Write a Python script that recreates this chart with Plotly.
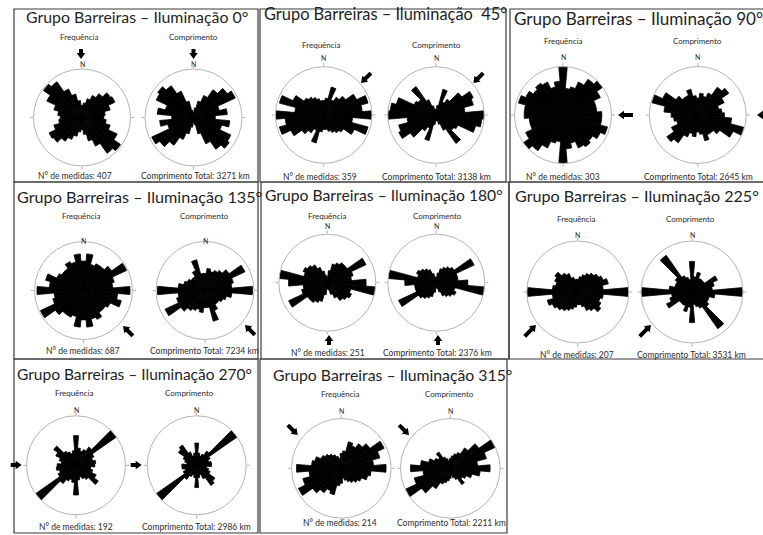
import math
import plotly.graph_objects as go

W, H = 763, 535

# Rose classes: 10° wide, centred on 0°, 10°, ..., 170°. Lineaments are axial,
# so every class is repeated at +180°.
bin_centres = list(range(0, 180, 10))

illumination_az = [0, 45, 90, 135, 180, 225, 270, 315]
titles = [
    "Grupo Barreiras – Iluminação 0°",
    "Grupo Barreiras – Iluminação\u00a0 45°",
    "Grupo Barreiras – Iluminação 90°",
    "Grupo Barreiras – Iluminação 135°",
    "Grupo Barreiras – Iluminação 180°",
    "Grupo Barreiras – Iluminação 225°",
    "Grupo Barreiras – Iluminação 270°",
    "Grupo Barreiras – Iluminação 315°",
]
n_medidas = [407, 359, 303, 687, 251, 207, 192, 214]
comprimento_km = [3271, 3138, 2645, 7234, 2376, 3531, 2986, 2211]

# Class sizes in % of the outer circle (frequency and cumulative length)
freq_000 = [25, 30, 40, 50, 60, 72, 75, 60, 48, 45, 50, 60, 80, 97, 90, 65, 50, 35]
comp_000 = [10, 20, 35, 50, 70, 85, 95, 55, 70, 45, 75, 60, 85, 90, 80, 60, 35, 15]
freq_045 = [30, 35, 60, 35, 45, 55, 75, 95, 80, 100, 60, 95, 70, 50, 45, 40, 35, 30]
comp_045 = [12, 20, 55, 30, 40, 65, 85, 80, 60, 100, 95, 85, 50, 45, 72, 35, 20, 12]
freq_090 = [100, 55, 60, 75, 90, 100, 85, 70, 70, 80, 80, 95, 85, 75, 80, 75, 60, 70]
comp_090 = [35, 45, 40, 50, 70, 78, 60, 45, 50, 55, 70, 98, 80, 55, 45, 45, 55, 40]
freq_135 = [60, 75, 55, 60, 60, 70, 97, 65, 60, 95, 70, 80, 60, 55, 55, 65, 60, 75]
comp_135 = [35, 45, 40, 45, 50, 60, 90, 60, 55, 97, 55, 45, 40, 35, 35, 45, 65, 35]
freq_180 = [12, 25, 40, 45, 50, 50, 88, 55, 50, 80, 100, 50, 55, 50, 45, 35, 25, 15]
comp_180 = [10, 20, 30, 35, 40, 45, 86, 45, 45, 65, 100, 40, 45, 40, 35, 30, 20, 12]
freq_225 = [25, 30, 35, 40, 45, 50, 55, 62, 50, 100, 50, 45, 50, 55, 45, 40, 30, 25]
comp_225 = [60, 30, 40, 30, 30, 30, 55, 45, 40, 100, 45, 35, 35, 40, 88, 35, 30, 25]
freq_270 = [60, 35, 30, 35, 45, 100, 40, 35, 40, 38, 30, 35, 45, 55, 35, 30, 25, 30]
comp_270 = [45, 25, 20, 25, 35, 100, 30, 25, 30, 30, 20, 25, 30, 45, 50, 30, 20, 25]
freq_315 = [30, 35, 55, 50, 60, 70, 95, 80, 65, 90, 60, 55, 45, 40, 35, 30, 25, 20]
comp_315 = [20, 25, 30, 35, 50, 70, 100, 75, 55, 80, 60, 45, 35, 30, 40, 25, 20, 15]

freq_sets = [freq_000, freq_045, freq_090, freq_135, freq_180, freq_225, freq_270, freq_315]
comp_sets = [comp_000, comp_045, comp_090, comp_135, comp_180, comp_225, comp_270, comp_315]

# ---- page geometry (pixels) ----
boxes = [  # x0, y0, x1, y1 of each framed panel
    (14, 9, 258, 182), (260, 9, 506, 182), (510, 9, 765, 182),
    (14, 182, 258, 359), (261, 182, 509, 359), (509, 182, 765, 359),
    (14, 359, 258, 533), (260, 359, 507, 533),
]
title_pos = [(24, 16), (262, 13.5), (512, 18.5), (15, 196.5), (263, 195), (513, 195.5), (15, 374), (271, 374)]
title_size = [15.9, 16.4, 17.1, 16.2, 15.7, 16.1, 15.5, 15.8]
rose_cx = [(82, 193.5), (323.7, 436), (563, 697.8), (83.5, 205), (327.3, 436.3), (577.8, 692), (76, 196.7), (341.3, 450.3)]
rose_cy = [117.5, 115, 115, 290.5, 282.7, 292, 465.3, 468.3]
rose_r = [48.5, 48.3, 48.5, 49, 48.5, 51, 49.5, 49.8]
head_y = [37, 45, 40.7, 216.3, 215.7, 219, 393.3, 394.3]
head_x = [(79, 193), (321.7, 436.7), (563.3, 697.7), (81.7, 204), (327.7, 437.7), (576.7, 690), (74, 189.3), (340, 449.3)]
north_y = [64, 58.3, 56.7, 240.7, 226.3, 235.3, 410, 410.7]
foot_y = [176, 176.7, 176.7, 351.3, 353, 354.7, 526.7, 523.3]
foot_x = [(75, 195), (320, 436.7), (563.3, 698.3), (83.3, 204), (327.7, 437.7), (576.7, 691.7), (76, 196.7), (340, 451.7)]
arrow_tip = [
    ((81, 59), (193.5, 59)), ((361, 83), (473.3, 83)), ((618, 115), (757, 115)),
    ((123, 326), (245, 325)), ((329, 335), (438, 335)), ((536, 325), (651, 325)),
    ((21.7, 465), (141.7, 465)), ((297.7, 435), (409, 435)),
]
arrow_len = [10, 14, 15, 14, 10, 16, 11, 14]

TEXT = "#2b2b2b"
FONT = "Lato"


def fx(x):
    return x / W


def fy(y):
    return 1 - y / H


fig = go.Figure()
annotations = []
shapes = []


def block_arrow(tip, az, length, shaft=4.0, head_w=8.5, head_l=6.0):
    # arrow pointing away from the illumination azimuth (light travels towards az+180)
    d = (-math.sin(math.radians(az)), math.cos(math.radians(az)))
    n = (-d[1], d[0])
    local = [(0, 0), (-head_l, head_w / 2), (-head_l, shaft / 2), (-length, shaft / 2),
             (-length, -shaft / 2), (-head_l, -shaft / 2), (-head_l, -head_w / 2)]
    pts = [(tip[0] + u * d[0] + v * n[0], tip[1] + u * d[1] + v * n[1]) for u, v in local]
    path = "M " + " L ".join(f"{fx(x):.5f},{fy(y):.5f}" for x, y in pts) + " Z"
    return dict(type="path", xref="paper", yref="paper", path=path,
                fillcolor="black", line=dict(width=0), layer="above")


k = 0
for p in range(8):
    x0, y0, x1, y1 = boxes[p]
    shapes.append(dict(type="rect", xref="paper", yref="paper",
                       x0=fx(x0), x1=fx(x1), y0=fy(y1), y1=fy(y0),
                       line=dict(color="#3a3a3a", width=1.2), layer="below"))
    tx, ty = title_pos[p]
    annotations.append(dict(text=titles[p], x=fx(tx), y=fy(ty), xref="paper", yref="paper",
                            xanchor="left", yanchor="middle", showarrow=False,
                            font=dict(family=FONT, size=title_size[p], color="#1e1e1e")))
    cy, r = rose_cy[p], rose_r[p]
    for j, (label, values) in enumerate([("Frequência", freq_sets[p]), ("Comprimento", comp_sets[p])]):
        k += 1
        name = "polar" if k == 1 else f"polar{k}"
        cx = rose_cx[p][j]
        fig.add_trace(go.Barpolar(
            r=values + values,
            theta=bin_centres + [b + 180 for b in bin_centres],
            width=[10] * (2 * len(bin_centres)),
            marker=dict(color="black", line=dict(color="black", width=0.8)),
            subplot=name, showlegend=False, hoverinfo="skip",
        ))
        fig.update_layout({name: dict(
            domain=dict(x=[fx(cx - r), fx(cx + r)], y=[fy(cy + r), fy(cy - r)]),
            bgcolor="rgba(0,0,0,0)",
            radialaxis=dict(visible=False, range=[0, 100]),
            angularaxis=dict(rotation=90, direction="clockwise", showgrid=False,
                             showticklabels=False, tickmode="array", tickvals=[0, 90, 180, 270],
                             ticks="outside", ticklen=3, tickcolor="#b4b4b4", tickwidth=1,
                             linecolor="#b4b4b4", linewidth=1),
        )})
        annotations.append(dict(text=label, x=fx(head_x[p][j]), y=fy(head_y[p]),
                                xref="paper", yref="paper", showarrow=False,
                                xanchor="center", yanchor="middle",
                                font=dict(family=FONT, size=8, color=TEXT)))
        annotations.append(dict(text="N", x=fx(cx), y=fy(north_y[p]),
                                xref="paper", yref="paper", showarrow=False,
                                xanchor="center", yanchor="middle",
                                font=dict(family=FONT, size=7, color=TEXT)))
        shapes.append(block_arrow(arrow_tip[p][j], illumination_az[p], arrow_len[p]))
    annotations.append(dict(text=f"N° de medidas: {n_medidas[p]}", x=fx(foot_x[p][0]), y=fy(foot_y[p]),
                            xref="paper", yref="paper", showarrow=False,
                            xanchor="center", yanchor="middle",
                            font=dict(family=FONT, size=8.5, color=TEXT)))
    annotations.append(dict(text=f"Comprimento Total: {comprimento_km[p]} km", x=fx(foot_x[p][1]),
                            y=fy(foot_y[p]), xref="paper", yref="paper", showarrow=False,
                            xanchor="center", yanchor="middle",
                            font=dict(family=FONT, size=8.5, color=TEXT)))

fig.update_layout(
    width=W, height=H, margin=dict(l=0, r=0, t=0, b=0),
    paper_bgcolor="white", plot_bgcolor="white",
    annotations=annotations, shapes=shapes, showlegend=False,
)

fig.write_html("out.html", config={"displayModeBar": False})
